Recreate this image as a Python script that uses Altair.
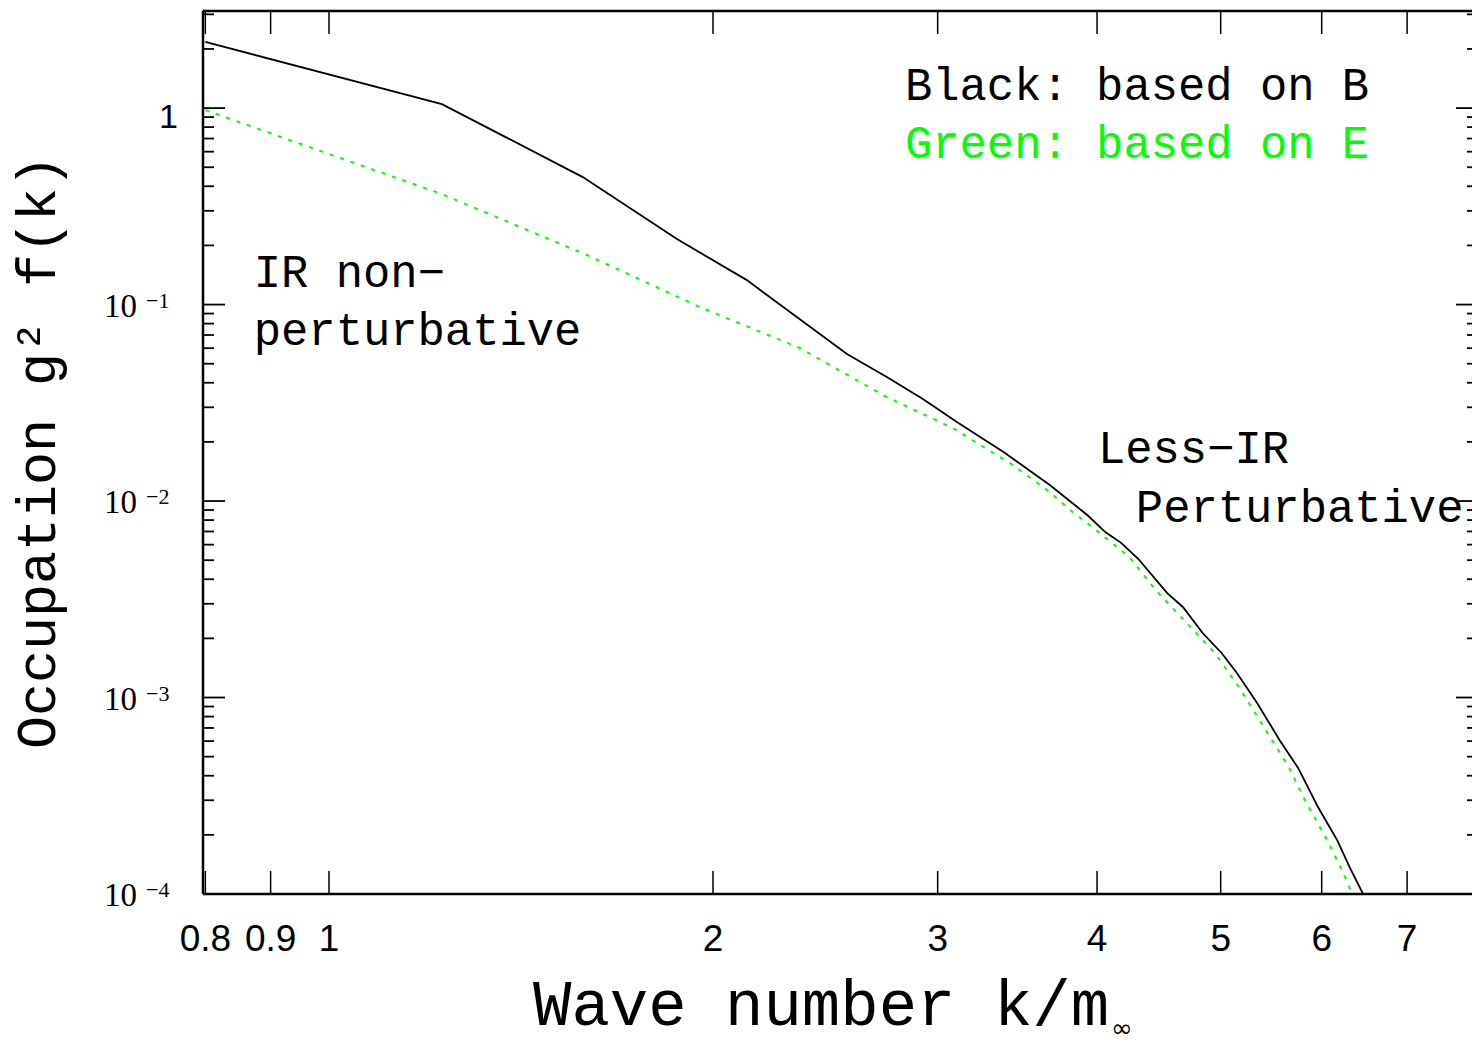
import altair as alt
import pandas as pd

# ---- data ----
k_black = [0.8, 1.226, 1.581, 1.874, 2.126, 2.547, 2.737, 2.921, 3.106, 3.388, 3.673,
           3.93, 4.06, 4.18, 4.31, 4.54, 4.67, 4.84, 5.01, 5.15, 5.34, 5.56, 5.75,
           5.96, 6.17, 6.31, 6.46]
f_black = [2.17, 1.048, 0.4455, 0.2154, 0.1332, 0.05597, 0.04276, 0.03304, 0.02523,
           0.01755, 0.01206, 0.00849, 0.00695, 0.00611, 0.00507, 0.00340, 0.00289,
           0.00213, 0.00168, 0.00133, 0.000937, 0.000608, 0.000438, 0.000277,
           0.000188, 0.000137, 0.000101]

k_green = [0.8, 1.226, 1.593, 1.953, 2.339, 2.737, 3.083, 3.436, 3.673, 3.81, 4.02,
           4.24, 4.447, 4.703, 4.948, 5.167, 5.424, 5.654, 5.82, 6.077, 6.29, 6.335]
f_green = [0.977, 0.365, 0.1786, 0.0971, 0.0601, 0.03383, 0.02352, 0.01525, 0.01111,
           0.0090, 0.00687, 0.00519, 0.00352, 0.002394, 0.001684, 0.001131, 0.000683,
           0.000443, 0.000301, 0.000182, 0.0001138, 0.0001]

x_tick_values = [0.8, 0.9, 1, 2, 3, 4, 5, 6, 7]
x_tick_labels = ["0.8", "0.9", "1", "2", "3", "4", "5", "6", "7"]
y_major = [1e-4, 1e-3, 1e-2, 1e-1, 1.0]
y_minor = [m * 10.0 ** e for e in range(-4, 1) for m in range(2, 10) if m * 10.0 ** e <= 3.1]
y_exp_values = [1e-1, 1e-2, 1e-3, 1e-4]
y_exp_labels = ["\u22121", "\u22122", "\u22123", "\u22124"]

ann_text = ["Black: based on B", "Green: based on E", "IR non\u2212", "perturbative",
            "Less\u2212IR", "Perturbative"]
ann_k = [2.828, 2.828, 0.873, 0.873, 4.006, 4.290]
ann_f = [1.098, 0.5567, 0.1228, 0.0622, 0.0156, 0.00782]
ann_color = ["#000000", "#00ff00", "#000000", "#000000", "#000000", "#000000"]

W, H = 1269, 883
XDOM = [0.7966, 7.87]
YDOM = [1e-4, 3.12]

xs = alt.Scale(type="log", domain=XDOM, nice=False)
ys = alt.Scale(type="log", domain=YDOM, nice=False)

df_b = pd.DataFrame({"k": k_black, "f": f_black})
df_g = pd.DataFrame({"k": k_green, "f": f_green})
df_xt = pd.DataFrame({"k": x_tick_values, "lab": x_tick_labels})
df_ymaj = pd.DataFrame({"f": y_major})
df_ymin = pd.DataFrame({"f": y_minor})
df_yexp = pd.DataFrame({"f": y_exp_values, "e": y_exp_labels})
df_one = pd.DataFrame({"f": [1.0], "t": ["1"]})
df_ann = pd.DataFrame({"k": ann_k, "f": ann_f, "text": ann_text, "c": ann_color})
df_dummy = pd.DataFrame({"a": [0]})

X = alt.X("k:Q", scale=xs, axis=None)
Y = alt.Y("f:Q", scale=ys, axis=None)

black = alt.Chart(df_b).mark_line(color="black", strokeWidth=1.8, clip=True).encode(x=X, y=Y)
green = alt.Chart(df_g).mark_line(color="#00ff00", strokeWidth=2, strokeDash=[4, 7],
                                  clip=True).encode(x=X, y=Y)

# frame (left, top, bottom)
frame_left = alt.Chart(df_dummy).mark_rule(color="black", strokeWidth=2.5).encode(
    x=alt.value(0), y=alt.value(0), y2=alt.value(H))
frame_top = alt.Chart(df_dummy).mark_rule(color="black", strokeWidth=2.5).encode(
    x=alt.value(0), x2=alt.value(W + 10), y=alt.value(0))
frame_bot = alt.Chart(df_dummy).mark_rule(color="black", strokeWidth=2.5).encode(
    x=alt.value(0), x2=alt.value(W + 10), y=alt.value(H))

# inward ticks
xt_bot = alt.Chart(df_xt).mark_rule(color="black", strokeWidth=1.5).encode(
    x=X, y=alt.value(H), y2=alt.value(H - 23))
xt_top = alt.Chart(df_xt).mark_rule(color="black", strokeWidth=1.5).encode(
    x=X, y=alt.value(0), y2=alt.value(23))
yt_maj_l = alt.Chart(df_ymaj).mark_rule(color="black", strokeWidth=1.8).encode(
    y=Y, x=alt.value(0), x2=alt.value(22))
yt_min_l = alt.Chart(df_ymin).mark_rule(color="black", strokeWidth=1.8).encode(
    y=Y, x=alt.value(0), x2=alt.value(11))
yt_maj_r = alt.Chart(df_ymaj).mark_rule(color="black", strokeWidth=1.8).encode(
    y=Y, x=alt.value(W - 16), x2=alt.value(W + 6))
yt_min_r = alt.Chart(df_ymin).mark_rule(color="black", strokeWidth=1.8).encode(
    y=Y, x=alt.value(W - 5), x2=alt.value(W + 6))

# tick labels
x_labels = alt.Chart(df_xt).mark_text(font="Liberation Sans", fontSize=37, baseline="middle",
                                      align="center", color="black").encode(
    x=X, y=alt.value(H + 46), text="lab:N")
y_base = alt.Chart(df_yexp).mark_text(font="Liberation Serif", fontSize=33, align="right",
                                      baseline="alphabetic", dy=12, color="black").encode(
    y=Y, x=alt.value(-66), text=alt.value("10"))
y_exp = alt.Chart(df_yexp).mark_text(font="Liberation Serif", fontSize=22, align="left",
                                     baseline="alphabetic", dy=3, color="black").encode(
    y=Y, x=alt.value(-57), text="e:N")
y_one = alt.Chart(df_one).mark_text(font="Liberation Sans", fontSize=34, align="right",
                                    baseline="alphabetic", dy=20, color="black").encode(
    y=Y, x=alt.value(-25), text="t:N")

# annotations
ann = alt.Chart(df_ann).mark_text(font="Liberation Mono", fontSize=45.5, align="left",
                                  baseline="alphabetic").encode(
    x=X, y=Y, text="text:N", color=alt.Color("c:N", scale=None))

# axis titles
df_xt1 = pd.DataFrame({"t": ["Wave number k/m"]})
df_xt2 = pd.DataFrame({"t": ["\u221e"]})
df_yt = pd.DataFrame({"t": ["Occupation g\u00b2 f(k)"]})
x_title = alt.Chart(df_xt1).mark_text(font="Liberation Mono", fontSize=64, align="left",
                                      baseline="alphabetic", color="black").encode(
    x=alt.value(330), y=alt.value(1014), text="t:N")
x_title_sub = alt.Chart(df_xt2).mark_text(font="DejaVu Sans", fontSize=26, align="left",
                                          baseline="alphabetic", color="black").encode(
    x=alt.value(908), y=alt.value(1026), text="t:N")
y_title = alt.Chart(df_yt).mark_text(font="Liberation Mono", fontSize=55, align="center",
                                     baseline="alphabetic", angle=270, color="black").encode(
    x=alt.value(-148), y=alt.value(441), text="t:N")

chart = alt.layer(
    green, black, frame_left, frame_top, frame_bot, xt_bot, xt_top,
    yt_maj_l, yt_min_l, yt_maj_r, yt_min_r, x_labels, y_base, y_exp, y_one,
    ann, x_title, x_title_sub, y_title
).properties(
    width=W, height=H,
    autosize=alt.AutoSizeParams(type="none"),
    padding={"left": 203, "top": 11, "right": 0, "bottom": 153},
    background="white",
).configure_view(strokeWidth=0)

chart.save("out.html", embed_options={"renderer": "svg", "actions": False})
